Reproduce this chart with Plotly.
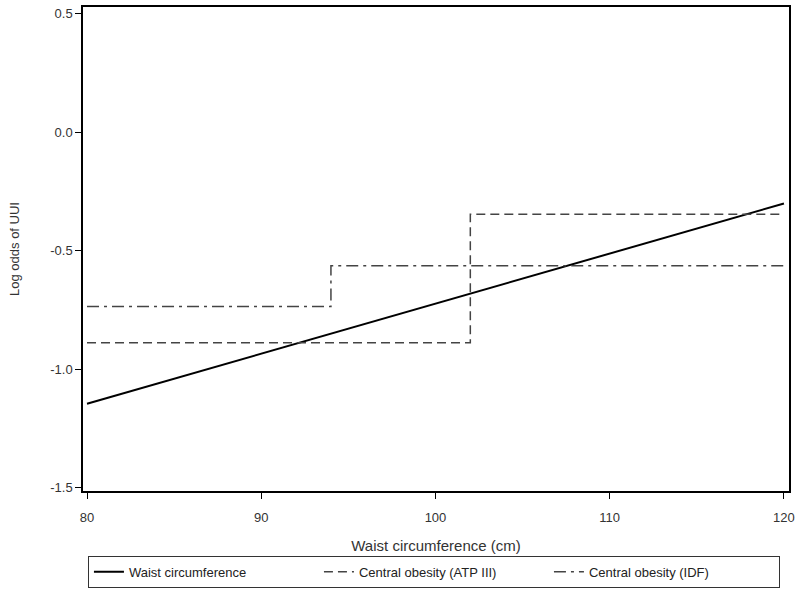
import plotly.graph_objects as go

# Waist circumference (cm) on x, log odds of UUI on y
waist_x = [80, 120]
waist_logodds = [-1.145, -0.30]

atp_x = [80, 102, 120]
atp_logodds = [-0.888, -0.345, -0.345]

idf_x = [80, 94, 120]
idf_logodds = [-0.735, -0.563, -0.563]

x_ticks = [80, 90, 100, 110, 120]
y_ticks = [0.5, 0.0, -0.5, -1.0, -1.5]
y_tick_text = ["0.5", "0.0", "-0.5", "-1.0", "-1.5"]

FONT = "Liberation Sans, Arial, sans-serif"

fig = go.Figure()
fig.add_trace(go.Scatter(
    x=waist_x, y=waist_logodds, mode="lines",
    name="Waist circumference",
    line=dict(color="black", width=2),
))
fig.add_trace(go.Scatter(
    x=atp_x, y=atp_logodds, mode="lines", line_shape="hv",
    name="Central obesity (ATP III)",
    line=dict(color="#444", width=1.5, dash="9px,5px"),
))
fig.add_trace(go.Scatter(
    x=idf_x, y=idf_logodds, mode="lines", line_shape="hv",
    name="Central obesity (IDF)",
    line=dict(color="#444", width=1.5, dash="12px,5px,3px,5px"),
))

axis_common = dict(
    showline=True, linecolor="black", linewidth=1.5, mirror=True,
    showgrid=False, zeroline=False,
    ticks="outside", ticklen=6, tickcolor="black",
    tickfont=dict(size=13, color="#333", family=FONT),
)

fig.update_layout(
    width=800, height=594,
    paper_bgcolor="white", plot_bgcolor="white",
    font=dict(family=FONT, color="#333"),
    margin=dict(l=83, r=11, t=5, b=103),
    xaxis=dict(
        range=[79.77, 120.29], tickvals=x_ticks, ticklabelstandoff=8,
        title=dict(text="Waist circumference (cm)", font=dict(size=15), standoff=16),
        **axis_common,
    ),
    yaxis=dict(
        range=[-1.513, 0.529], tickvals=y_ticks, ticktext=y_tick_text,
        title=dict(text="Log odds of UUI", font=dict(size=13), standoff=28),
        **axis_common,
    ),
    legend=dict(
        orientation="h", x=0.007, xanchor="left", y=-0.2, yanchor="bottom",
        bordercolor="#333", borderwidth=1, bgcolor="white",
        font=dict(size=13, color="#222", family=FONT),
        entrywidth=185, tracegroupgap=0,
    ),
    showlegend=True,
)

fig.write_html(
    "out.html",
    config={"displayModeBar": False},
    post_script="document.body.style.margin='0';document.body.style.overflow='hidden';",
)
